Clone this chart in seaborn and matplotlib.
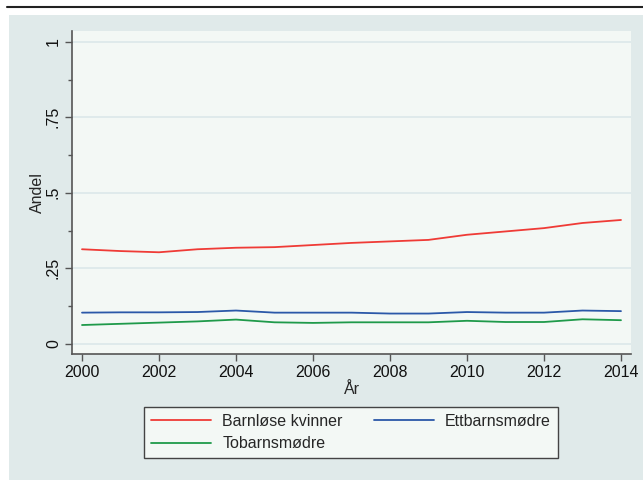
import matplotlib
matplotlib.use("Agg")
import matplotlib.pyplot as plt
import seaborn as sns
import pandas as pd
from matplotlib.patches import Rectangle
from matplotlib.lines import Line2D
from matplotlib.ticker import MultipleLocator

years = list(range(2000, 2015))
barnlose = [0.313, 0.307, 0.303, 0.313, 0.318, 0.320, 0.327, 0.334, 0.339, 0.344,
            0.361, 0.372, 0.383, 0.400, 0.410]
ettbarn = [0.103, 0.104, 0.104, 0.105, 0.110, 0.103, 0.103, 0.103, 0.100, 0.100,
           0.105, 0.103, 0.103, 0.110, 0.108]
tobarn = [0.062, 0.066, 0.070, 0.074, 0.080, 0.071, 0.069, 0.071, 0.071, 0.071,
          0.076, 0.072, 0.072, 0.081, 0.078]
series_names = ["Barnløse kvinner", "Ettbarnsmødre", "Tobarnsmødre"]
series_colors = ["#ef3b36", "#2b58a8", "#1f9a4a"]

df = pd.DataFrame({
    "År": years * 3,
    "Andel": barnlose + ettbarn + tobarn,
    "Gruppe": [series_names[0]] * 15 + [series_names[1]] * 15 + [series_names[2]] * 15,
})

sns.set_style("white")
plt.rcParams["font.family"] = ["Liberation Sans", "DejaVu Sans"]

outer_bg = "#e0eaea"
panel_bg = "#f3f8f5"
fs = 11.5

fig = plt.figure(figsize=(6.43, 4.8), dpi=100)
fig.patch.set_facecolor("white")
fig.patches.append(Rectangle((9 / 643, 0), 1 - 9 / 643, (480 - 15) / 480,
                             transform=fig.transFigure, facecolor=outer_bg,
                             edgecolor="none", zorder=-10))
fig.lines.append(Line2D([7 / 643, 1], [1 - 7 / 480, 1 - 7 / 480],
                        transform=fig.transFigure, color="#222222", linewidth=1.5))

ax = fig.add_axes([72 / 643, 1 - 354 / 480, (631 - 72) / 643, (354 - 31) / 480])
ax.set_facecolor(panel_bg)

sns.lineplot(data=df, x="År", y="Andel", hue="Gruppe", hue_order=series_names,
             palette=series_colors, linewidth=1.3, ax=ax, legend=False)

ax.set_xlim(1999.74, 2014.26)
ax.set_ylim(-0.034, 1.036)
ax.set_xticks(range(2000, 2015, 2))
ax.set_yticks([0, 0.25, 0.5, 0.75, 1])
ax.set_yticklabels(["0", ".25", ".5", ".75", "1"], rotation=90, va="center")
ax.yaxis.set_minor_locator(MultipleLocator(0.125))
ax.grid(axis="y", which="major", color="#dce8ea", linewidth=1.2)
ax.set_axisbelow(True)

for side in ["top", "right"]:
    ax.spines[side].set_visible(False)
for side in ["left", "bottom"]:
    ax.spines[side].set_color("#555555")
    ax.spines[side].set_linewidth(1.2)

ax.tick_params(axis="both", which="major", direction="out", length=5, width=1,
               color="#555555", labelsize=fs, labelcolor="#111111", pad=3)
ax.tick_params(axis="y", which="minor", direction="out", length=3, width=1,
               color="#555555", left=True)
ax.tick_params(axis="x", which="both", bottom=True)
ax.tick_params(axis="y", which="major", left=True)

ax.set_xlabel("År", fontsize=fs, labelpad=1)
ax.set_ylabel("Andel", fontsize=fs, labelpad=1)

# row-major order in a two-column legend
order = [0, 2, 1]
handles = [Line2D([], [], color=series_colors[i], linewidth=1.3) for i in order]
labels = [series_names[i] for i in order]
leg = fig.legend(handles, labels, loc="center", ncol=2,
                 bbox_to_anchor=(351 / 643, 1 - 432.5 / 480),
                 fontsize=fs, handlelength=3.75, handletextpad=0.7,
                 columnspacing=1.95, labelspacing=0.45, borderpad=0.45,
                 frameon=True, fancybox=False, edgecolor="#444444",
                 facecolor=panel_bg, framealpha=1)
leg.get_frame().set_linewidth(1.0)

fig.savefig("out.png", dpi=100, facecolor=fig.get_facecolor())
